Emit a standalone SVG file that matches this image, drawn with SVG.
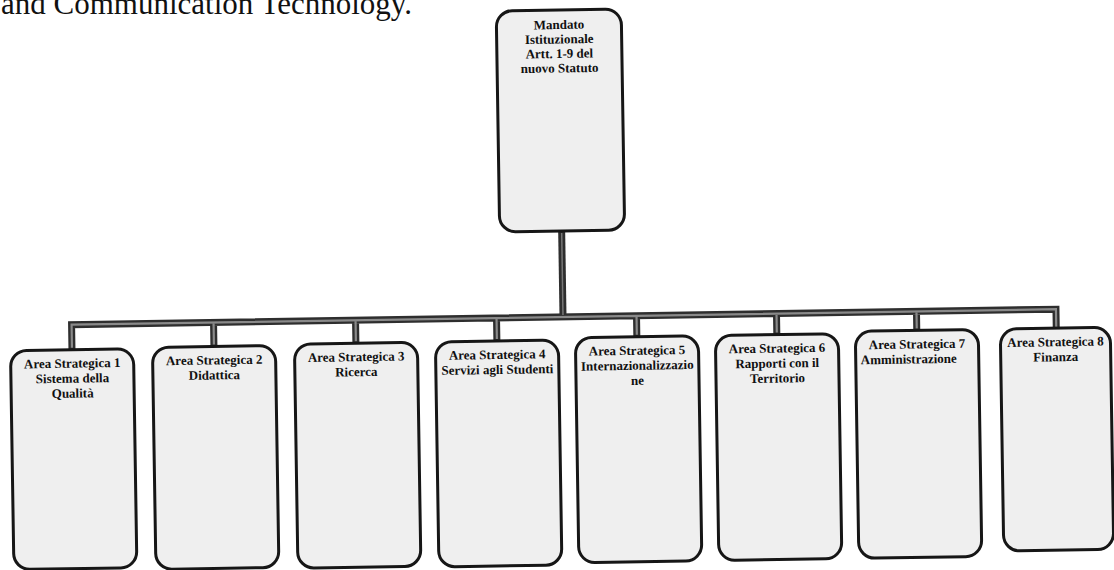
<svg xmlns="http://www.w3.org/2000/svg" width="1114" height="570" viewBox="0 0 1114 570">
<style>
.box{fill:#efefef;stroke:#161616;stroke-width:3}
.t{font-family:"Liberation Serif","Times New Roman",serif;font-weight:bold;font-size:13px;fill:#111;text-anchor:middle}
.hdr{font-family:"Liberation Serif","Times New Roman",serif;font-size:31px;fill:#111}
.outer{fill:none;stroke:#2e2e2e;stroke-width:7;stroke-linejoin:miter}
.inner{fill:none;stroke:#8a8a8a;stroke-width:2.2;stroke-linejoin:miter}
</style>
<rect width="1114" height="570" fill="#ffffff"/>
<text class="hdr" x="1" y="14">and Communication Technology.</text>
<g transform="rotate(-0.9 560 316)">
<g id="connectors">
<path class="outer" d="M563 231 V317"/>
<path class="outer" d="M71.5 342 V317 H1056 V337 M213.5 341 V317 M355.5 340 V317 M496.5 340 V317 M636.5 338 V317 M776.5 338 V317 M916.5 336 V317"/>
<path class="inner" d="M71.5 340 V317 H1056 V335 M213.5 339 V317 M355.5 338 V317 M496.5 338 V317 M636.5 336 V317 M776.5 336 V317 M916.5 334 V317"/>
<path d="M563 233 V315" stroke="#777" stroke-width="1.5" fill="none"/>
</g>
<g id="n0">
<rect class="box" x="501" y="10" width="125" height="221" rx="16"/>
<text class="t" x="563.5" y="29">Mandato</text>
<text class="t" x="563.5" y="43.5">Istituzionale</text>
<text class="t" x="563.5" y="58">Artt. 1-9 del</text>
<text class="t" x="563.5" y="72.5">nuovo Statuto</text>
</g>
<g id="n1">
<rect class="box" x="10" y="342" width="123" height="219" rx="16"/>
<text class="t" x="71.5" y="360">Area Strategica 1</text>
<text class="t" x="71.5" y="375">Sistema della</text>
<text class="t" x="71.5" y="390">Qualità</text>
</g>
<g id="n2">
<rect class="box" x="152" y="341" width="123" height="222" rx="16"/>
<text class="t" x="213.5" y="359">Area Strategica 2</text>
<text class="t" x="213.5" y="374">Didattica</text>
</g>
<g id="n3">
<rect class="box" x="294" y="340" width="123" height="224" rx="16"/>
<text class="t" x="355.5" y="358">Area Strategica 3</text>
<text class="t" x="355.5" y="373">Ricerca</text>
</g>
<g id="n4">
<rect class="box" x="435" y="340" width="123" height="225" rx="16"/>
<text class="t" x="496.5" y="358">Area Strategica 4</text>
<text class="t" x="496.5" y="373">Servizi agli Studenti</text>
</g>
<g id="n5">
<rect class="box" x="575" y="338" width="123" height="225" rx="16"/>
<text class="t" x="636.5" y="356">Area Strategica 5</text>
<text class="t" x="636.5" y="371">Internazionalizzazio</text>
<text class="t" x="636.5" y="386">ne</text>
</g>
<g id="n6">
<rect class="box" x="715" y="338" width="123" height="225" rx="16"/>
<text class="t" x="776.5" y="356">Area Strategica 6</text>
<text class="t" x="776.5" y="371">Rapporti con il</text>
<text class="t" x="776.5" y="386">Territorio</text>
</g>
<g id="n7">
<rect class="box" x="855" y="336" width="123" height="227" rx="16"/>
<text class="t" x="916.5" y="354">Area Strategica 7</text>
<text class="t" x="908" y="369">Amministrazione</text>
</g>
<g id="n8">
<rect class="box" x="1000" y="336" width="110" height="222" rx="16"/>
<text class="t" x="1055" y="354">Area Strategica 8</text>
<text class="t" x="1055" y="369">Finanza</text>
</g>
</g>
</svg>
